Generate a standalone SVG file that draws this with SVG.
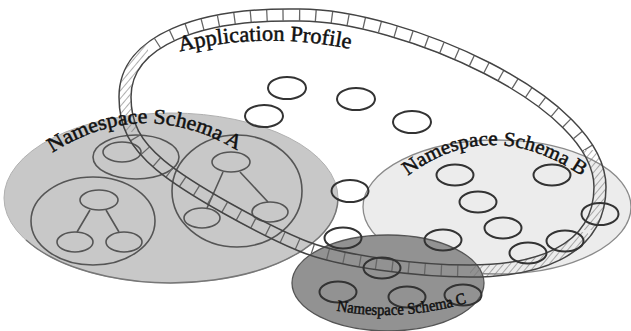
<svg xmlns="http://www.w3.org/2000/svg" width="631" height="331" viewBox="0 0 631 331">
<style>
.node{fill:none;stroke:#333;stroke-width:2}
.sub{fill:none;stroke:#555;stroke-width:1.6}
.link{stroke:#555;stroke-width:1.6;fill:none}
.lbl{font-family:"Liberation Serif","Times New Roman",serif;fill:#111;stroke:#111;stroke-width:0.5}
</style>
<defs>
<path id="band" d="M125,97 C125,40 200,13 300,15 C400,15 600,100 600,187 C600,255 530,271 470,271 C420,271 340,262 300,245 C260,228 190,190 160,165 C135,144 125,125 125,97 Z"/>
<mask id="edgeMask" maskUnits="userSpaceOnUse" x="0" y="0" width="631" height="331">
<use href="#band" fill="none" stroke="#fff" stroke-width="15"/>
<use href="#band" fill="none" stroke="#000" stroke-width="10.5"/>
</mask>
<pattern id="hatch" patternUnits="userSpaceOnUse" width="5" height="5" patternTransform="rotate(40)">
<line x1="0" y1="0" x2="0" y2="5" stroke="#777" stroke-width="1.2"/>
</pattern>
<clipPath id="sides">
<rect x="108" y="40" width="40" height="92"/>
<rect x="584" y="150" width="30" height="80"/>
<rect x="470" y="232" width="118" height="48"/>
</clipPath>
<clipPath id="notsides">
<path clip-rule="evenodd" d="M0,0H631V331H0Z M108,40h40v92h-40Z M584,150h30v80h-30Z M470,232h118v48h-118Z"/>
</clipPath>
<path id="arcP" d="M170,54 Q265,29 360,51"/>
<path id="arcA" d="M45,158 Q142,90 245,155"/>
<path id="arcB" d="M405,178 Q490,112 585,178"/>
<path id="arcC" d="M333,310 Q400,323 470,302"/>
</defs>

<g id="schemaA">
<ellipse cx="171" cy="198" rx="167" ry="85" fill="#c8c8c8" stroke="#b0b0b0" stroke-width="1"/>
<path d="M26,240 A167,85 0 0 0 338,198" fill="none" stroke="#777" stroke-width="1.5"/>
<ellipse class="sub" cx="136" cy="157" rx="43" ry="22"/>
<ellipse class="sub" cx="122" cy="152" rx="19" ry="10"/>
<ellipse class="sub" cx="93" cy="221" rx="62" ry="44"/>
<ellipse class="sub" cx="99" cy="200" rx="19" ry="10"/>
<ellipse class="sub" cx="75" cy="242" rx="18" ry="10"/>
<ellipse class="sub" cx="124" cy="242" rx="18" ry="10"/>
<path class="link" d="M90,210 L77,232 M106,210 L119,232"/>
<ellipse class="sub" cx="237" cy="191" rx="65" ry="56"/>
<ellipse class="sub" cx="231" cy="162" rx="19" ry="10"/>
<ellipse class="sub" cx="202" cy="218" rx="18" ry="10"/>
<ellipse class="sub" cx="270" cy="212" rx="18" ry="10"/>
<path class="link" d="M223,172 L207,208 M240,172 L268,202"/>
</g>

<g id="schemaB">
<ellipse cx="497" cy="207" rx="134" ry="67" fill="#ececec" stroke="#8a8a8a" stroke-width="1.3"/>
</g>

<g id="schemaC">
<ellipse cx="388" cy="283" rx="96" ry="48" fill="#929292" stroke="#555" stroke-width="1.3"/>
</g>

<g id="profile">
<use href="#band" fill="none" stroke="url(#hatch)" stroke-width="11" clip-path="url(#sides)"/>
<use href="#band" fill="none" stroke="#666" stroke-width="11" stroke-dasharray="1.3 15" clip-path="url(#notsides)"/>
<use href="#band" fill="none" stroke="#444" stroke-width="13.5" mask="url(#edgeMask)"/>
</g>

<g id="nodes">
<ellipse class="node" cx="287" cy="88" rx="19" ry="11"/>
<ellipse class="node" cx="264" cy="116" rx="19" ry="11"/>
<ellipse class="node" cx="356" cy="99" rx="19" ry="11"/>
<ellipse class="node" cx="412" cy="122" rx="19" ry="11"/>
<ellipse class="node" cx="350" cy="191" rx="18.5" ry="11"/>
<ellipse class="node" cx="343" cy="238" rx="18.5" ry="10.5"/>
<ellipse class="node" cx="382" cy="268" rx="18.5" ry="10.5"/>
<ellipse class="node" cx="338" cy="292" rx="18.5" ry="10.5"/>
<ellipse class="node" cx="407" cy="297" rx="18.5" ry="10.5"/>
<ellipse class="node" cx="463" cy="295" rx="18.5" ry="10.5"/>
<ellipse class="node" cx="455" cy="175" rx="18.5" ry="10.5" stroke="#555"/>
<ellipse class="node" cx="552" cy="175" rx="18.5" ry="10.5" stroke="#555"/>
<ellipse class="node" cx="478" cy="202" rx="18.5" ry="10.5" stroke="#555"/>
<ellipse class="node" cx="503" cy="228" rx="18.5" ry="10.5" stroke="#555"/>
<ellipse class="node" cx="443" cy="240" rx="18.5" ry="10.5" stroke="#555"/>
<ellipse class="node" cx="528" cy="253" rx="18.5" ry="10.5" stroke="#555"/>
<ellipse class="node" cx="565" cy="241" rx="18.5" ry="10.5" stroke="#555"/>
<ellipse class="node" cx="600" cy="214" rx="18.5" ry="11" stroke="#555"/>
</g>

<g id="labels">
<text class="lbl" font-size="22"><textPath href="#arcP" startOffset="50%" text-anchor="middle" textLength="172" lengthAdjust="spacingAndGlyphs">Application Profile</textPath></text>
<text class="lbl" font-size="21"><textPath href="#arcA" startOffset="50%" text-anchor="middle" textLength="196" lengthAdjust="spacingAndGlyphs">Namespace Schema A</textPath></text>
<text class="lbl" font-size="20"><textPath href="#arcB" startOffset="50%" text-anchor="middle" textLength="188" lengthAdjust="spacingAndGlyphs">Namespace Schema B</textPath></text>
<text class="lbl" font-size="16"><textPath href="#arcC" startOffset="50%" text-anchor="middle" textLength="132" lengthAdjust="spacingAndGlyphs">Namespace Schema C</textPath></text>
</g>
</svg>
